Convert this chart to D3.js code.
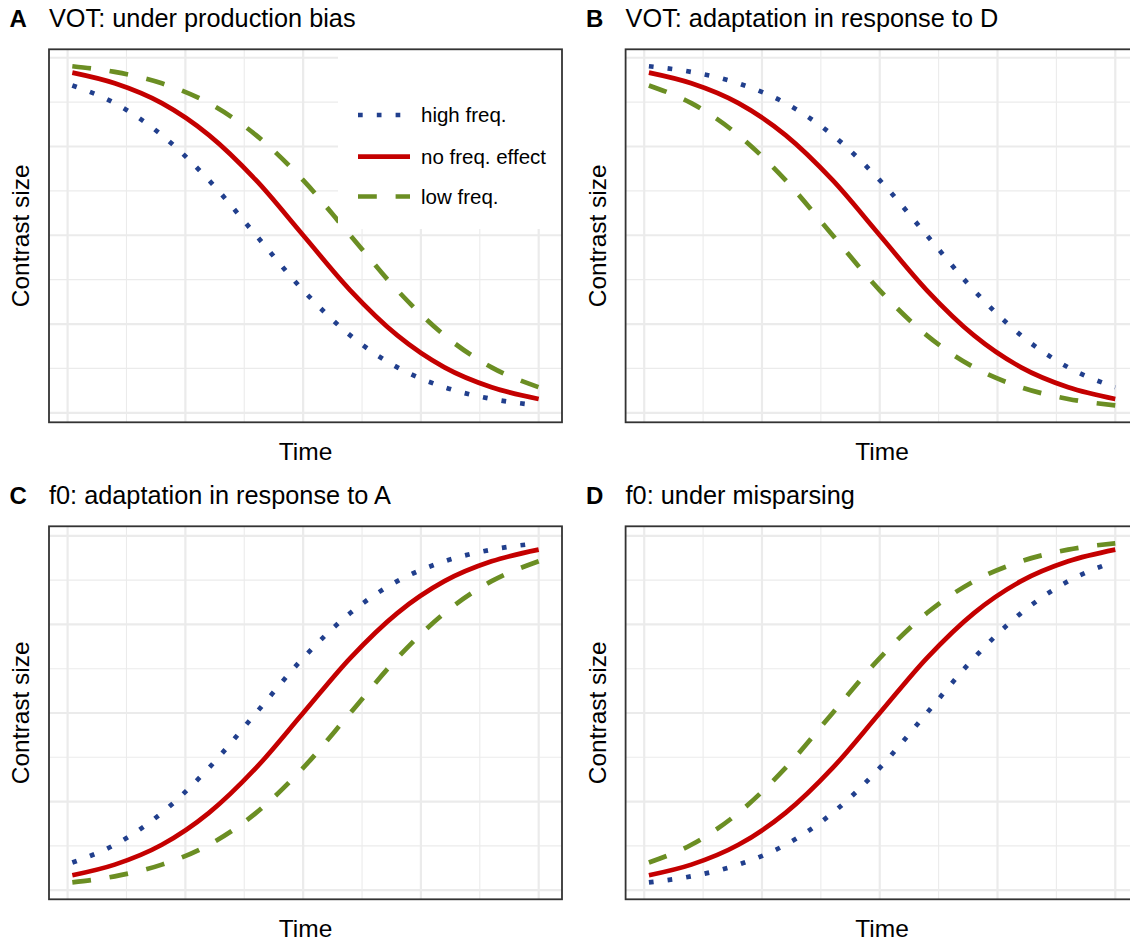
<!DOCTYPE html>
<html>
<head>
<meta charset="utf-8">
<script src="https://cdnjs.cloudflare.com/ajax/libs/d3/7.8.5/d3.min.js"></script>
<style>
  html, body { margin: 0; padding: 0; background: #ffffff; }
  svg { display: block; }
  text { font-family: "Liberation Sans", Arial, Helvetica, sans-serif; fill: #000; }
</style>
</head>
<body>
<div id="chart"></div>
<script>
// ---------------- data ----------------
const timePoints = [0.1, 1, 2, 3, 4, 5, 6, 7, 8, 9, 10];
const seriesNames = ["high freq.", "no freq. effect", "low freq."];
const seriesColors = ["#213F8D", "#C40000", "#6B8E23"];

const panelTags = ["A", "B", "C", "D"];
const panelTitles = [
  "VOT: under production bias",
  "VOT: adaptation in response to D",
  "f0: adaptation in response to A",
  "f0: under misparsing"
];

// Panel A
const aHigh = [0.922, 0.872, 0.782, 0.655, 0.500, 0.345, 0.218, 0.128, 0.072, 0.039, 0.021];
const aNone = [0.958, 0.928, 0.872, 0.782, 0.655, 0.500, 0.345, 0.218, 0.128, 0.072, 0.039];
const aLow  = [0.976, 0.960, 0.928, 0.872, 0.782, 0.655, 0.500, 0.345, 0.218, 0.128, 0.072];
// Panel B
const bHigh = [0.976, 0.960, 0.928, 0.872, 0.782, 0.655, 0.500, 0.345, 0.218, 0.128, 0.072];
const bNone = [0.958, 0.928, 0.872, 0.782, 0.655, 0.500, 0.345, 0.218, 0.128, 0.072, 0.039];
const bLow  = [0.922, 0.872, 0.782, 0.655, 0.500, 0.345, 0.218, 0.128, 0.072, 0.039, 0.021];
// Panel C
const cHigh = [0.078, 0.128, 0.218, 0.345, 0.500, 0.655, 0.782, 0.872, 0.928, 0.961, 0.979];
const cNone = [0.042, 0.072, 0.128, 0.218, 0.345, 0.500, 0.655, 0.782, 0.872, 0.928, 0.961];
const cLow  = [0.022, 0.039, 0.072, 0.128, 0.218, 0.345, 0.500, 0.655, 0.782, 0.872, 0.928];
// Panel D
const dHigh = [0.022, 0.039, 0.072, 0.128, 0.218, 0.345, 0.500, 0.655, 0.782, 0.872, 0.928];
const dNone = [0.042, 0.072, 0.128, 0.218, 0.345, 0.500, 0.655, 0.782, 0.872, 0.928, 0.961];
const dLow  = [0.078, 0.128, 0.218, 0.345, 0.500, 0.655, 0.782, 0.872, 0.928, 0.961, 0.979];

const xMajorBreaks = [0, 2.5, 5, 7.5, 10];
const xMinorBreaks = [1.25, 3.75, 6.25, 8.75];
const yMajorBreaks = [0, 0.25, 0.5, 0.75, 1];
const yMinorBreaks = [0.125, 0.375, 0.625, 0.875];

const xLabel = "Time";
const yLabel = "Contrast size";

// ---------------- layout ----------------
const W = 1130, H = 942;
const colLeft = [49, 625.6];
const rowTop = [49.3, 526.3];
const pw = 513, ph = 373;
const lw = 4.7;
const dashes = [lw + " " + (3 * lw), null, (4 * lw) + " " + (4 * lw)];

const panels = [
  { series: [aHigh, aNone, aLow], col: 0, row: 0, legend: true },
  { series: [bHigh, bNone, bLow], col: 1, row: 0, legend: false },
  { series: [cHigh, cNone, cLow], col: 0, row: 1, legend: false },
  { series: [dHigh, dNone, dLow], col: 1, row: 1, legend: false }
];

const svg = d3.select("#chart").append("svg")
  .attr("width", W).attr("height", H);

function expand(ext) {
  const pad = (ext[1] - ext[0]) * 0.05;
  return [ext[0] - pad, ext[1] + pad];
}

panels.forEach((p, i) => {
  const x0 = colLeft[p.col], y0 = rowTop[p.row];
  const g = svg.append("g").attr("transform", `translate(${x0},${y0})`);

  const x = d3.scaleLinear().domain(expand(d3.extent(timePoints))).range([0, pw]);
  const allY = p.series.flat();
  const y = d3.scaleLinear().domain(expand(d3.extent(allY))).range([ph, 0]);

  g.append("rect").attr("width", pw).attr("height", ph).attr("fill", "#fff");

  const grid = g.append("g");
  const inY = v => v >= y.domain()[0] && v <= y.domain()[1];
  grid.selectAll(".yminor").data(yMinorBreaks.filter(inY))
    .join("line").attr("x1", 0).attr("x2", pw)
    .attr("y1", d => y(d)).attr("y2", d => y(d))
    .attr("stroke", "#EBEBEB").attr("stroke-width", 1.1);
  grid.selectAll(".xminor").data(xMinorBreaks)
    .join("line").attr("y1", 0).attr("y2", ph)
    .attr("x1", d => x(d)).attr("x2", d => x(d))
    .attr("stroke", "#EBEBEB").attr("stroke-width", 1.1);
  grid.selectAll(".ymajor").data(yMajorBreaks.filter(inY))
    .join("line").attr("x1", 0).attr("x2", pw)
    .attr("y1", d => y(d)).attr("y2", d => y(d))
    .attr("stroke", "#EBEBEB").attr("stroke-width", 2.2);
  grid.selectAll(".xmajor").data(xMajorBreaks)
    .join("line").attr("y1", 0).attr("y2", ph)
    .attr("x1", d => x(d)).attr("x2", d => x(d))
    .attr("stroke", "#EBEBEB").attr("stroke-width", 2.2);

  const line = d3.line().x(d => x(d[0])).y(d => y(d[1])).curve(d3.curveMonotoneX);
  p.series.forEach((vals, k) => {
    const pts = timePoints.map((t, j) => [t, vals[j]]);
    g.append("path").datum(pts)
      .attr("d", line)
      .attr("fill", "none")
      .attr("stroke", seriesColors[k])
      .attr("stroke-width", lw)
      .attr("stroke-linecap", "butt")
      .attr("stroke-dasharray", dashes[k]);
  });

  if (p.legend) {
    const lg = g.append("g");
    lg.append("rect").attr("x", 338 - x0).attr("y", 0)
      .attr("width", pw - (338 - x0)).attr("height", 229 - y0)
      .attr("fill", "#fff");
    const keyY = [115, 156.7, 196.5];
    seriesNames.forEach((name, k) => {
      const ky = keyY[k] - y0;
      lg.append("line")
        .attr("x1", 358 - x0).attr("x2", 410 - x0)
        .attr("y1", ky).attr("y2", ky)
        .attr("stroke", seriesColors[k]).attr("stroke-width", lw)
        .attr("stroke-linecap", "butt")
        .attr("stroke-dasharray", dashes[k]);
      lg.append("text").attr("x", 421 - x0).attr("y", ky + 7.2)
        .attr("font-size", 20.5).text(name);
    });
  }

  g.append("rect").attr("width", pw).attr("height", ph)
    .attr("fill", "none").attr("stroke", "#333333").attr("stroke-width", 1.8);

  svg.append("text").attr("x", x0 - 39.5).attr("y", y0 - 22.6)
    .attr("font-size", 24).attr("font-weight", "bold")
    .text(panelTags[i]);
  svg.append("text").attr("x", x0).attr("y", y0 - 22.6)
    .attr("font-size", 25.3).text(panelTitles[i]);

  svg.append("text").attr("x", x0 + pw / 2).attr("y", y0 + ph + 37.7)
    .attr("text-anchor", "middle").attr("font-size", 24.5).text(xLabel);
  svg.append("text")
    .attr("transform", `translate(${x0 - 20},${y0 + ph / 2}) rotate(-90)`)
    .attr("text-anchor", "middle").attr("font-size", 24.5).text(yLabel);
});
</script>
</body>
</html>
